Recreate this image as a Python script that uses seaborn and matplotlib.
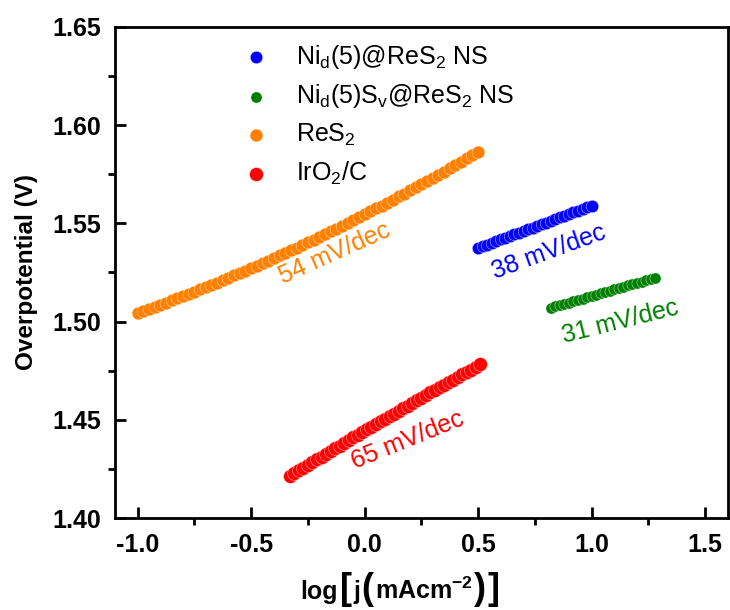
import matplotlib
matplotlib.use('Agg')
import matplotlib.pyplot as plt
import seaborn as sns
from matplotlib.ticker import MultipleLocator
from matplotlib.offsetbox import TextArea, HPacker, AnchoredOffsetbox

sns.set_style('white')
plt.rcParams['font.family'] = ['Liberation Sans', 'DejaVu Sans']
plt.rcParams['mathtext.fontset'] = 'custom'
plt.rcParams['mathtext.rm'] = 'Liberation Sans'
plt.rcParams['mathtext.it'] = 'Liberation Sans:italic'
plt.rcParams['mathtext.bf'] = 'Liberation Sans:bold'
plt.rcParams['text.color'] = 'black'
plt.rcParams['axes.labelcolor'] = 'black'
plt.rcParams['xtick.color'] = 'black'
plt.rcParams['ytick.color'] = 'black'

# Tafel data
# Ni_d(5)@ReS2 NS
x_ni = [0.50, 0.52, 0.54, 0.56, 0.58, 0.60, 0.62, 0.64, 0.66, 0.68, 0.70, 0.72, 0.74,
        0.76, 0.78, 0.80, 0.82, 0.84, 0.86, 0.88, 0.90, 0.92, 0.94, 0.96, 0.98, 1.00]
y_ni = [1.5375, 1.5384, 1.5392, 1.5401, 1.5410, 1.5418, 1.5427, 1.5435, 1.5444, 1.5453,
        1.5461, 1.5470, 1.5478, 1.5487, 1.5496, 1.5504, 1.5513, 1.5522, 1.5530, 1.5539,
        1.5547, 1.5556, 1.5565, 1.5573, 1.5582, 1.5591]

# Ni_d(5)S_v@ReS2 NS
x_nisv = [0.82, 0.84, 0.86, 0.88, 0.90, 0.92, 0.94, 0.96, 0.98, 1.00, 1.02, 1.04,
          1.06, 1.08, 1.10, 1.12, 1.14, 1.16, 1.18, 1.20, 1.22, 1.24, 1.26, 1.28]
y_nisv = [1.5070, 1.5077, 1.5084, 1.5090, 1.5097, 1.5104, 1.5110, 1.5117, 1.5124, 1.5131,
          1.5137, 1.5144, 1.5151, 1.5157, 1.5164, 1.5171, 1.5177, 1.5184, 1.5191, 1.5197,
          1.5204, 1.5211, 1.5217, 1.5224]

# ReS2
x_res2 = [-1.000, -0.975, -0.950, -0.925, -0.900, -0.875, -0.850, -0.825, -0.800, -0.775,
          -0.750, -0.725, -0.700, -0.675, -0.650, -0.625, -0.600, -0.575, -0.550, -0.525,
          -0.500, -0.475, -0.450, -0.425, -0.400, -0.375, -0.350, -0.325, -0.300, -0.275,
          -0.250, -0.225, -0.200, -0.175, -0.150, -0.125, -0.100, -0.075, -0.050, -0.025,
          0.000, 0.025, 0.050, 0.075, 0.100, 0.125, 0.150, 0.175, 0.200, 0.225,
          0.250, 0.275, 0.300, 0.325, 0.350, 0.375, 0.400, 0.425, 0.450, 0.475, 0.500]
y_res2 = [1.5044, 1.5054, 1.5065, 1.5075, 1.5086, 1.5097, 1.5108, 1.5119, 1.5130, 1.5141,
          1.5153, 1.5164, 1.5176, 1.5187, 1.5199, 1.5211, 1.5223, 1.5235, 1.5248, 1.5260,
          1.5273, 1.5285, 1.5298, 1.5311, 1.5324, 1.5337, 1.5350, 1.5363, 1.5377, 1.5390,
          1.5404, 1.5417, 1.5431, 1.5445, 1.5459, 1.5473, 1.5488, 1.5502, 1.5517, 1.5531,
          1.5546, 1.5561, 1.5576, 1.5591, 1.5606, 1.5621, 1.5637, 1.5652, 1.5668, 1.5684,
          1.5700, 1.5716, 1.5732, 1.5748, 1.5764, 1.5781, 1.5797, 1.5814, 1.5831, 1.5848, 1.5865]

# IrO2/C
x_iro2 = [-0.33, -0.31, -0.29, -0.27, -0.25, -0.23, -0.21, -0.19, -0.17, -0.15, -0.13,
          -0.11, -0.09, -0.07, -0.05, -0.03, -0.01, 0.01, 0.03, 0.05, 0.07, 0.09,
          0.11, 0.13, 0.15, 0.17, 0.19, 0.21, 0.23, 0.25, 0.27, 0.29, 0.31,
          0.33, 0.35, 0.37, 0.39, 0.41, 0.43, 0.45, 0.47, 0.49, 0.51]
y_iro2 = [1.4214, 1.4228, 1.4242, 1.4257, 1.4271, 1.4285, 1.4299, 1.4313, 1.4327, 1.4341,
          1.4354, 1.4368, 1.4382, 1.4396, 1.4410, 1.4423, 1.4437, 1.4451, 1.4464, 1.4478,
          1.4492, 1.4505, 1.4519, 1.4532, 1.4546, 1.4559, 1.4572, 1.4586, 1.4599, 1.4612,
          1.4626, 1.4639, 1.4652, 1.4665, 1.4678, 1.4691, 1.4705, 1.4718, 1.4731, 1.4744,
          1.4756, 1.4769, 1.4782]

labels = [r'Ni$_\mathregular{d}$(5)@ReS$_\mathregular{2}$ NS',
          r'Ni$_\mathregular{d}$(5)S$_\mathregular{v}$@ReS$_\mathregular{2}$ NS',
          r'ReS$_\mathregular{2}$',
          r'IrO$_\mathregular{2}$/C']
colors = ['#0000ff', '#008000', '#ff8000', '#ff0000']
sizes = [80, 65, 85, 100]

slopes = ['38 mV/dec', '31 mV/dec', '54 mV/dec', '65 mV/dec']
slope_x = [0.81, 1.125, -0.13, 0.19]
slope_y = [1.5352, 1.4998, 1.5345, 1.4398]
slope_rot = [20, 14, 24, 22]

xticks = [-1.0, -0.5, 0.0, 0.5, 1.0, 1.5]
xtick_labels = ['-1.0', '-0.5', '0.0', '0.5', '1.0', '1.5']
yticks = [1.40, 1.45, 1.50, 1.55, 1.60, 1.65]
ytick_labels = ['1.40', '1.45', '1.50', '1.55', '1.60', '1.65']

fig = plt.figure(figsize=(7.3, 6.1), dpi=100)
ax = fig.add_axes([0.1575, 0.1508, 0.8395, 0.805])

series = [(x_ni, y_ni), (x_nisv, y_nisv), (x_res2, y_res2), (x_iro2, y_iro2)]
for (xs, ys), lab, c, s in zip(series, labels, colors, sizes):
    sns.scatterplot(x=xs, y=ys, color=c, s=s, edgecolor=(1, 1, 1, 0.55), linewidth=0.5,
                    label=lab, ax=ax, zorder=3)

for txt, tx, ty, rot, c in zip(slopes, slope_x, slope_y, slope_rot, colors):
    ax.text(tx, ty, txt, color=c, fontsize=18, rotation=rot,
            rotation_mode='anchor', ha='center', va='center')

ax.set_xlim(-1.1, 1.6)
ax.set_ylim(1.40, 1.65)
ax.set_xticks(xticks)
ax.set_xticklabels(xtick_labels, fontweight='bold', fontsize=18)
ax.set_yticks(yticks)
ax.set_yticklabels(ytick_labels, fontweight='bold', fontsize=18)
ax.xaxis.set_minor_locator(MultipleLocator(0.25))
ax.yaxis.set_minor_locator(MultipleLocator(0.025))
ax.tick_params(which='major', direction='in', length=8, width=2,
               bottom=True, left=True, top=False, right=False)
ax.tick_params(which='minor', direction='out', length=5, width=2,
               bottom=True, left=True, top=False, right=False)
ax.tick_params(axis='x', which='major', pad=11)
ax.tick_params(axis='y', which='major', pad=10)

for sp in ax.spines.values():
    sp.set_linewidth(2)
    sp.set_color('black')

ax.set_ylabel('Overpotential (V)', fontsize=17.5, fontweight='bold', labelpad=10)

# x label with tall bold brackets
xlabel_parts = [('log', 18), ('[', 26), ('j', 18), ('(', 26),
                (r'mAcm$^{\mathbf{-2}}$', 18), (')', 26), (']', 26)]
boxes = [TextArea(t, textprops=dict(fontsize=fs, fontweight='bold', color='black'))
         for t, fs in xlabel_parts]
pack = HPacker(children=boxes, align='baseline', pad=0, sep=1)
xlab = AnchoredOffsetbox(loc='center', child=pack, frameon=False, pad=0, borderpad=0,
                         bbox_to_anchor=(0.548, 0.034), bbox_transform=fig.transFigure)
fig.add_artist(xlab)

ax.legend(loc='upper left', bbox_to_anchor=(0.2096, 0.968), frameon=False,
          fontsize=18, handlelength=1.0, handletextpad=1.1, labelspacing=0.46,
          borderpad=0, borderaxespad=0)

fig.savefig('out.png', dpi=100)
